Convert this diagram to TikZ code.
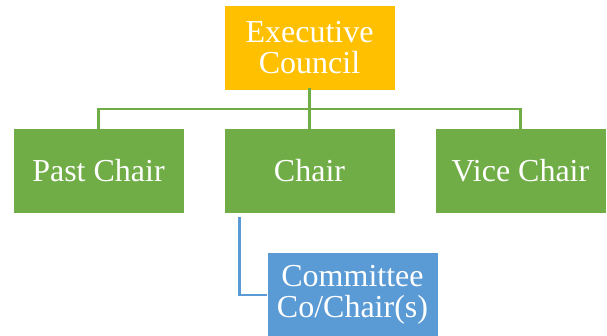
\documentclass[tikz,border=0pt]{standalone}
\usepackage{fontspec}
\setmainfont{Liberation Serif}
\definecolor{councilfill}{RGB}{255, 192, 0}
\definecolor{chairfill}{RGB}{112, 173, 71}
\definecolor{committeefill}{RGB}{91, 155, 213}
\usetikzlibrary{calc}
\tikzset{
    orgbox/.style={draw=white, line width=0.6pt, text=white, align=center,
        minimum width=171pt, minimum height=85pt, inner sep=0pt,
        font=\fontsize{32}{31}\selectfont},
    greenlink/.style={draw=chairfill, line width=2.6pt},
    bluelink/.style={draw=committeefill, line width=2.6pt},
}
\begin{document}
\begin{tikzpicture}[x=1pt, y=-1pt]
            \useasboundingbox (0, 0) rectangle (607, 336);
            \node[orgbox, fill=councilfill] (exec) at (309.5, 48)
                {Executive\\Council};
            \node[orgbox, fill=chairfill] (past) at (98.5, 171) {Past Chair};
            \node[orgbox, fill=chairfill] (chair) at (309.5, 171) {Chair};
            \node[orgbox, fill=chairfill] (vice) at (520.5, 171) {Vice Chair};
            \node[orgbox, fill=committeefill] (committee) at (352.5, 295)
                {Committee\\Co/Chair(s)};
            \coordinate (bus) at (309.5, 109);
            \draw[greenlink] ([yshift=3pt]exec.south) -- (bus);
            \foreach \n in {past, chair, vice}
                \draw[greenlink] (bus) -| ([yshift=-2pt]\n.north);
            \draw[bluelink] ($(chair.south west)+(16, 3)$) |- (committee.west);
        \end{tikzpicture}
\end{document}
